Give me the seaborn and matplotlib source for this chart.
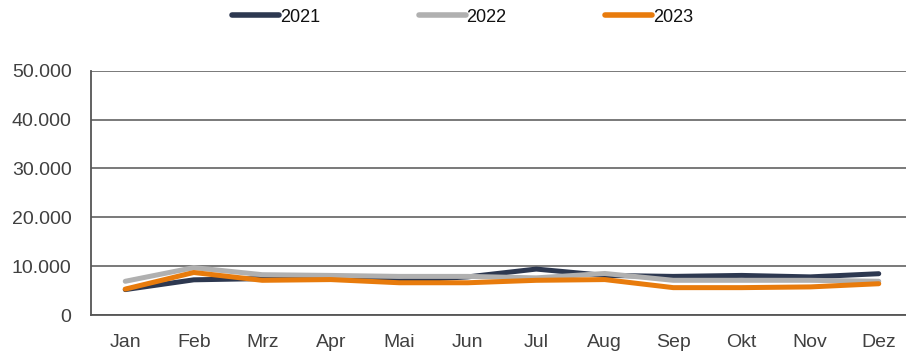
import numpy as np
import pandas as pd
import matplotlib
matplotlib.use("Agg")
import matplotlib.pyplot as plt
import seaborn as sns
from matplotlib.ticker import FuncFormatter

months = ["Jan", "Feb", "Mrz", "Apr", "Mai", "Jun", "Jul", "Aug", "Sep", "Okt", "Nov", "Dez"]
years = ["2021", "2022", "2023"]
v2021 = [5200, 7200, 7450, 7450, 7000, 7800, 9400, 8100, 7900, 8100, 7800, 8450]
v2022 = [6900, 9700, 8250, 8100, 7900, 7900, 7600, 8500, 7100, 7100, 7100, 6900]
v2023 = [5300, 8700, 7100, 7250, 6600, 6600, 7100, 7250, 5600, 5600, 5750, 6400]
colors = ["#2D3850", "#B0B0B0", "#E87B0C"]

df = pd.DataFrame({
    "Monat": months * 3,
    "x": list(range(12)) * 3,
    "Wert": v2021 + v2022 + v2023,
    "Jahr": [y for y in years for _ in months],
})

sns.set_theme(style="white")
plt.rcParams["font.family"] = ["Liberation Sans", "DejaVu Sans"]

fig = plt.figure(figsize=(9.06, 3.55), dpi=100)
ax = fig.add_axes([91 / 906, 40 / 355, 822 / 906, 244.3 / 355])

sns.lineplot(data=df, x="x", y="Wert", hue="Jahr", palette=colors, linewidth=3.6,
             ax=ax, legend=True, solid_capstyle="round")

ax.set_xlim(-0.5, 11.5)
ax.set_ylim(0, 50000)
ax.set_yticks([0, 10000, 20000, 30000, 40000, 50000])
ax.yaxis.set_major_formatter(FuncFormatter(lambda v, p: f"{int(v):,}".replace(",", ".")))
ax.set_xticks(range(12))
ax.set_xticklabels(months)
ax.set_xlabel("")
ax.set_ylabel("")
ax.grid(axis="y", color="#555555", linewidth=1.1)
ax.set_axisbelow(True)
for s in ["top", "right"]:
    ax.spines[s].set_visible(False)
ax.spines["left"].set_color("#555555")
ax.spines["left"].set_linewidth(1.3)
ax.spines["bottom"].set_color("#555555")
ax.spines["bottom"].set_linewidth(1.3)
ax.tick_params(axis="both", labelsize=14, length=0)
ax.tick_params(axis="y", pad=14)
ax.tick_params(axis="x", pad=14)
for lab in ax.get_xticklabels() + ax.get_yticklabels():
    lab.set_color("#404040")

handles, labels = ax.get_legend_handles_labels()
leg_y = 1 + (315 - 17 - 244.3) / 244.3
ax.legend(handles, labels, loc="center", bbox_to_anchor=(0.452, leg_y),
          ncol=3, frameon=False, fontsize=13, handlelength=2.6, handletextpad=0.05,
          columnspacing=5.45, labelcolor="#111111")
leg = ax.get_legend()
for ln in leg.get_lines():
    ln.set_linewidth(4)
    ln.set_solid_capstyle("round")

fig.savefig("out.png", dpi=100)
